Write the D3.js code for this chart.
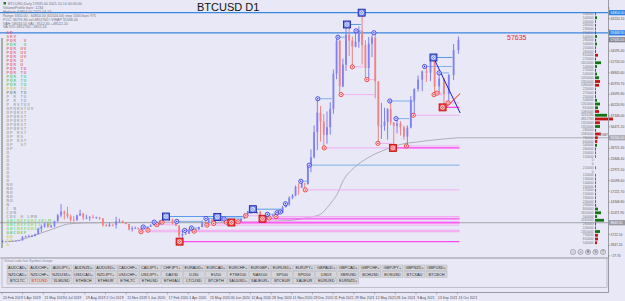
<!DOCTYPE html>
<html>
<head>
<meta charset="utf-8">
<script src="https://cdn.jsdelivr.net/npm/d3@7"></script>
<style>
html, body { margin: 0; padding: 0; background: #e8e8f6; overflow: hidden; }
svg { display: block; font-family: "Liberation Sans", Arial, sans-serif; }
</style>
</head>
<body>
<svg id="chart" width="625" height="301"></svg>
<script>
// time axis labels, as printed under the chart
const tickLabels = ["20 Feb 2019","5 Apr 2019","21 May 2019","4 Jul 2019","19 Aug 2019","2 Oct 2019","15 Nov 2019","1 Jan 2020","17 Feb 2020","1 Apr 2020","15 May 2020","30 Jun 2020","12 Aug 2020","28 Sep 2020","11 Nov 2020","28 Dec 2020","11 Feb 2021","29 Mar 2021","12 May 2021","28 Jun 2021","9 Aug 2021","13 Sep 2021","13 Oct 2021"];
const tickDates = ["2019-02-20","2019-04-05","2019-05-21","2019-07-04","2019-08-19","2019-10-02","2019-11-15","2020-01-01","2020-02-17","2020-04-01","2020-05-15","2020-06-30","2020-08-12","2020-09-28","2020-11-11","2020-12-28","2021-02-11","2021-03-29","2021-05-12","2021-06-28","2021-08-09","2021-09-13","2021-10-13"];

// price axis labels
const priceTicks = [-27.70,2847.20,5722.10,8597.00,11471.90,14346.80,17221.70,20096.60,22971.50,25846.40,28721.30,31596.20,34471.10,37346.00,40220.90,43095.80,45970.70,48845.60,51720.50,54595.40,57470.30,60345.20,63220.10,66095.00];

// weekly candles (weeks starting on monday)
const firstWeek = "2019-02-18";
const wkOpen = [3650,3850,3860,3950,4000,4020,4150,5050,5150,5300,
  5300,5800,7250,7800,8700,7700,8000,9300,10800,11800,
  11300,10600,9600,9500,10800,11300,10200,10200,10400,10300,
  10300,10000,8200,7900,8300,8250,9200,9200,8800,8500,
  7050,7400,7500,7100,7300,7400,7750,8200,8650,8400,
  9300,9900,9900,9700,8600,8000,5400,5850,5900,6800,
  6900,7100,7700,8900,8750,9700,8900,9450,9700,9350,
  9300,9000,9250,9250,9200,9950,11050,11900,11900,11700,
  11700,10300,10600,10700,10750,11050,11400,11500,13000,13750,
  15500,16050,18400,18200,19300,19150,23800,26300,33000,38200,
  35800,32300,34300,39200,48600,57400,45200,51000,59000,57400,
  55800,57100,60000,56200,50100,56600,58200,46500,34700,34700,
  35800,39100,35600,34700,35300,34300,31800,34200,41500,44500,
  47000,49200,48800,51800,45200,47300,43200,48200,54900];
const wkHigh = [4200,3950,3980,4050,4100,4150,5300,5450,5650,5650,
  5900,7450,8350,8700,9100,8300,9400,11200,13800,12100,
  13100,11000,10600,11000,12300,11450,10950,10600,10950,10450,
  10350,10000,8500,8800,8400,10400,9900,9500,8900,8500,
  7900,7800,7500,7500,7700,7500,8450,9000,8700,9600,
  9950,10500,10250,9950,9200,8200,6900,6900,7200,7450,
  7300,7800,9450,10000,9900,9850,9600,10400,9950,9850,
  9800,9300,9450,9300,10000,11400,12000,12100,12450,11800,
  12000,10700,11100,10800,10950,11500,11700,13350,14000,15900,
  16500,18800,19400,19900,19400,24200,28400,34800,41900,40000,
  37800,38500,41000,49700,58300,57500,52600,61700,60900,58500,
  60000,61200,64854,57500,58400,58900,59500,46600,40800,39500,
  39400,41300,35700,36600,35900,34700,34800,42600,44700,48100,
  49400,50500,52000,52900,48800,47300,48500,56500,58500];
const wkLow = [3640,3700,3700,3850,3950,3950,4100,4900,5050,5000,
  5200,5700,6400,7500,7500,7450,7600,9000,10300,9700,
  10000,9100,9200,9400,10600,9500,9800,9350,10000,9900,
  9600,7800,7900,7800,7900,7300,9000,8700,8400,6800,
  6500,7200,7000,6450,7100,6850,7700,8100,8300,8300,
  9100,9750,9300,8400,8000,3800,4500,5700,5900,6700,
  6600,6850,7650,8700,8200,8800,8650,9300,9100,9200,
  8850,8900,9100,9050,9100,9900,10700,11200,11500,11150,
  9900,9900,10200,10100,10400,10500,11200,11400,12900,13300,
  15100,15900,16300,18100,17600,19000,22300,26000,28200,30500,
  28800,29900,32300,37900,47100,43000,45000,49300,53300,50400,
  55600,55500,51000,47000,47100,53000,42000,30000,31200,33400,
  31000,34900,28800,32700,32100,31000,29300,34000,37500,43800,
  43900,46400,46600,43000,43400,39600,40800,46900,53900];
const wkClose = [3850,3860,3950,4000,4020,4150,5050,5150,5300,5300,
  5800,7250,7800,8700,7700,8000,9300,10800,11800,11300,
  10600,9600,9500,10800,11300,10200,10200,10400,10300,10300,
  10000,8200,7900,8300,8250,9200,9200,8800,8500,7050,
  7400,7500,7100,7300,7400,7750,8200,8650,8400,9300,
  9900,9900,9700,8600,8000,5400,5850,5900,6800,6900,
  7100,7700,8900,8750,9700,8900,9450,9700,9350,9300,
  9000,9250,9250,9200,9950,11050,11900,11900,11700,11700,
  10300,10600,10700,10750,11050,11400,11500,13000,13750,15500,
  16050,18400,18200,19300,19150,23800,26300,33000,38200,35800,
  32300,34300,39200,48600,57400,45200,51000,59000,57400,55800,
  57100,60000,56200,50100,56600,58200,46500,34700,34700,35800,
  39100,35600,34700,35300,34300,31800,34200,41500,44500,47000,
  49200,48800,51800,45200,47300,43200,48200,54900,57635];
const lastPrice = 57635;
const lastDate = "2021-10-16";

// long average (grey curve)
const maDates = ["2019-03-08","2019-04-02","2019-05-03","2019-06-04","2019-06-26","2019-07-12","2019-08-20","2019-11-01","2020-02-01","2020-06-01","2020-09-01","2020-11-01","2020-11-25","2020-12-20","2021-01-13","2021-02-04","2021-02-20","2021-03-05","2021-03-31","2021-04-27","2021-06-09","2021-07-05","2021-08-12","2021-10-14"];
const maValues = [3800,4300,5600,6900,7900,8500,8800,8900,8950,8950,9150,9400,9700,10300,11000,13800,16500,20000,23700,26100,28500,29600,30400,31500];

// swing highs (blue) and lows (red), with the day their line stops (null = still open)
const hiDates = ["2019-12-23","2020-01-17","2020-02-13","2020-03-07","2020-03-24","2020-04-07","2020-05-08","2020-06-02","2020-06-17","2020-08-17","2020-09-19","2020-10-10","2020-10-17","2020-10-28","2020-12-01","2020-12-20","2021-01-08","2021-02-21","2021-03-13","2021-04-02","2021-04-14","2021-05-10","2021-06-15","2021-06-29","2021-08-23","2021-09-07","2021-09-16"];
const hiPrices = [7700,9000,10500,9200,6800,7450,10000,10400,9850,12450,11100,11500,11700,13900,19900,24200,41900,58300,61700,60000,64854,59500,41300,36600,50500,52900,48800];
const hiBox = [0,0,1,0,0,0,0,1,0,1,0,0,0,0,0,0,0,0,1,0,1,0,0,0,0,1,0];
const hiEnds = ["2020-01-06","2020-01-29","2020-07-27","2020-04-30","2020-04-06","2020-04-23","2020-06-01","2020-07-27","2020-07-22","2020-10-21","2020-10-10","2020-10-20","2020-10-21","2020-11-04","2020-12-16",null,"2021-02-08","2021-03-13","2021-04-13","2021-04-13","2021-04-14","2021-05-10","2021-08-06","2021-07-26","2021-10-05","2021-10-06","2021-10-01"];

const loDates = ["2019-12-18","2020-01-03","2020-01-23","2020-02-04","2020-03-13","2020-04-13","2020-05-10","2020-05-25","2020-06-22","2020-07-03","2020-07-17","2020-08-02","2020-09-08","2020-09-23","2020-10-08","2020-12-11","2021-01-22","2021-02-28","2021-03-25","2021-04-25","2021-05-19","2021-06-22","2021-07-20","2021-08-03","2021-09-08","2021-09-13","2021-09-21","2021-09-29"];
const loPrices = [6450,6850,8300,9000,3800,6600,8200,8650,9000,8900,9100,10700,9900,10100,10500,17600,28800,43000,50400,47000,30000,28800,29300,37500,43000,43400,39600,40800];
const loBox = [0,0,0,0,1,0,0,0,0,1,0,0,1,0,0,0,0,0,0,0,0,1,0,0,0,0,1,0];
const loEnds = [null,null,"2020-03-09","2020-03-08",null,null,null,null,"2020-06-27",null,null,"2020-09-05",null,null,null,null,null,"2021-05-12","2021-04-18","2021-05-12","2021-06-22",null,null,null,"2021-09-21","2021-09-20",null,null];

// horizontal levels across the whole chart
const blueLevels = [64854.00, 59468.90];
const greyLevels = [8843.50];

// trend lines at the right end
const trendFromDate = ["2021-09-07","2021-09-22"];
const trendFromPrice = [52900, 38900];
const trendToDate = ["2021-10-17","2021-10-17"];
const trendToPrice = [38100, 43300];

// volume profile by 1000$ bins
const vpPrices = [3500,4500,5500,6500,7500,8500,9500,10500,11500,12500,13500,14500,15500,16500,17500,18500,19500,20500,21500,22500,23500,24500,25500,26500,27500,28500,29500,30500,31500,32500,33500,34500,35500,36500,37500,38500,39500,40500,41500,42500,43500,44500,45500,46500,47500,48500,49500,50500,51500,52500,53500,54500,55500,56500,57500,58500,59500,60500,61500,62500,63500,64500];
const vpVolumes = [540000,810000,790000,1350000,240000,260000,2430000,560000,1620000,800000,290000,230000,180000,150000,170000,160000,140000,130000,120000,0,210000,0,0,150000,200000,260000,540000,600000,760000,1580000,280000,1350000,1320000,4852760,3230180,1080000,810000,1350000,540000,250000,270000,220000,1080000,1350000,1090000,540000,270000,540000,1620000,270000,810000,260000,250000,540000,280000,540000,250000,230000,260000,200000,540000,180000];
const vpUp = [0,0,0,1,1,0,1,1,1,1,1,1,0,1,0,1,1,0,1,1,1,1,1,0,1,1,1,0,0,0,1,1,0,0,1,0,1,1,1,0,0,1,0,0,1,1,1,1,1,0,0,1,0,1,1,1,0,1,0,1,1,0];

// letter table on the left (blank = letter missing in that row)
const rowTexts = ["SR","SRV","PQR  V","PQR  V","PQR UV","PQR UV","PQR UV","PQR U","PQR U","PQR TU","PQR TU","PQR TU","PQR TU","PQR TU","PQR TU","PQR TU","P R TU","P R TU","P RSTUV","OPQRSTUV","OPQRST","OPQRST","OPQRST","OPQRST","OPQRST","OP RST","OP RS","OP RST","OP  ST","OP","O","O","O","O","O","O","O","O","NO","NO","NO","NO","NO","N","C N","CDN","CDE H LMN","ABCDEFGHIJKLM","ABCDEFGHIJ  M","ABCDEFGHIJ","ABCDEF","AB","AB","A"];
const rowKinds = ["r","r","r","g","r","r","r","r","r","r","r","g","g","g","y","d","s","s","s","s","s","s","s","s","s","s","s","s","s","s","s","s","s","s","s","s","s","s","s","s","s","s","s","s","s","s","s","l","l","l","g","y","y","y"];

const headerLines = ["BTCUSD,Daily  57635.00  2021.10.14 00:00:00","VolumeProfile  bars: 1234","Highest: 64854.00  2021.04.14","Range 3350.00 - 64854.00  (61504.00)  step 1000  bars 975","POC: 36791.80  vol 4852760  /  VWAP 31568.40","VAH: 58034.50  VAL: 9512.30  +48522.20","VA  70%  4852760 / 4852.24"];

const btnRow1 = ["AUDCAD+","AUDCHF+","AUDJPY+","AUDNZD+","AUDUSD+","CADCHF+","CADJPY+","CHFJPY+","EURAUD+","EURCAD+","EURCHF+","EURGBP+","EURUSD+","EURJPY+","GBPAUD+","GBPCAD+","GBPCHF+","GBPJPY+","GBPNZD+","GBPUSD+"];
const btnRow2 = ["NZDCAD+","NZDCHF+","NZDUSD+","USDCAD+","NZDJPY+","USDCHF+","USDJPY+","DAX30","DJ30","EU50","FTSE100","NAS100","SP500","SPI200","USDX","XBRUSD","BCHUSD","EOSUSD","BTCXAU","BTCBCH"];
const btnRow3 = ["BTCLTC","BTCUSD","XLMUSD","ETHBCH","ETHEUR","ETHLTC","ETHUSD","ETHXAU","LTCUSD","BTCETH","XAUUSD+","XAUEUR+","BTCEUR","XAUEUR","EURUSD","EURNZD+"];
const activeSymbol = "BTCUSD";

// ---------------------------------------------------------------
const W = 625, H = 301;
const plotRight = 608, plotBottom = 292;
const parse = d3.utcParse("%Y-%m-%d");
const svg = d3.select("#chart");

svg.append("rect").attr("width", W).attr("height", H).attr("fill", "#e8e8f6");

// bar-indexed time axis: labels sit at equal spacing
const tickStep = 20.7;
const x = d3.scaleUtc()
    .domain(tickDates.map(parse))
    .range(tickDates.map((d, i) => 2 + i * tickStep));

const y = d3.scaleLinear()
    .domain([priceTicks[0], priceTicks[priceTicks.length - 1]])
    .range([256, 8]);

svg.append("clipPath").attr("id", "plot")
    .append("rect").attr("width", plotRight).attr("height", plotBottom);

const plot = svg.append("g").attr("clip-path", "url(#plot)");

// header text lines (top left)
const header = svg.append("g").attr("font-size", 3.6).attr("fill", "#74747c");
headerLines.forEach((t, i) => {
    header.append("text")
        .attr("x", i == 0 ? 8 : 3)
        .attr("y", i < 3 ? 4.5 + i * 4 : 17 + (i - 3) * 3.8)
        .text(t);
});
svg.append("rect").attr("x", 3.5).attr("y", 2).attr("width", 2.5).attr("height", 2.5).attr("fill", "#208020");

// grey levels and long average
greyLevels.forEach(p => {
    plot.append("line")
        .attr("x1", 0).attr("x2", plotRight)
        .attr("y1", y(p)).attr("y2", y(p))
        .attr("stroke", "#a4a4ac").attr("stroke-width", 1);
});

const maLine = d3.line()
    .x((d, i) => x(parse(maDates[i])))
    .y(d => y(d))
    .curve(d3.curveMonotoneX);

plot.append("path")
    .datum(maValues)
    .attr("fill", "none")
    .attr("stroke", "#a8a8b0")
    .attr("stroke-width", 0.9)
    .attr("d", maLine);

const maLast = maValues[maValues.length - 1];
plot.append("line")
    .attr("x1", x(parse(maDates[maDates.length - 1]))).attr("x2", plotRight)
    .attr("y1", y(maLast)).attr("y2", y(maLast))
    .attr("stroke", "#a8a8b0").attr("stroke-width", 0.9);

// full width blue levels
blueLevels.forEach(p => {
    plot.append("line")
        .attr("x1", 0).attr("x2", plotRight)
        .attr("y1", y(p)).attr("y2", y(p))
        .attr("stroke", "#3a86e0").attr("stroke-width", 1.4);
});

// swing lines
const endX = d => x(parse(d == null ? lastDate : d));
const dayX = d => x(d3.utcHour.offset(parse(d), 12));

loDates.forEach((d, i) => {
    plot.append("line")
        .attr("x1", dayX(d)).attr("x2", endX(loEnds[i]))
        .attr("y1", y(loPrices[i])).attr("y2", y(loPrices[i]))
        .attr("stroke", loBox[i] ? "#ff4af2" : "#f4a6f2")
        .attr("stroke-width", loBox[i] ? 1.3 : 0.9);
});
hiDates.forEach((d, i) => {
    plot.append("line")
        .attr("x1", dayX(d)).attr("x2", endX(hiEnds[i]))
        .attr("y1", y(hiPrices[i])).attr("y2", y(hiPrices[i]))
        .attr("stroke", hiBox[i] ? "#5a9ae8" : "#7eb2ee")
        .attr("stroke-width", 1);
});

// candles
const candles = plot.append("g");
wkClose.forEach((c, i) => {
    const wk = d3.utcDay.offset(parse(firstWeek), 7 * i);
    const cx = x(d3.utcHour.offset(wk, 84));
    const o = wkOpen[i];
    const col = c >= o ? "#8080f4" : "#f08282";
    candles.append("line")
        .attr("x1", cx).attr("x2", cx)
        .attr("y1", y(wkHigh[i])).attr("y2", y(wkLow[i]))
        .attr("stroke", col).attr("stroke-width", 1);
    const top = Math.min(y(o), y(c));
    candles.append("rect")
        .attr("x", cx - 0.9).attr("width", 1.8)
        .attr("y", top).attr("height", Math.max(0.8, Math.abs(y(o) - y(c))))
        .attr("fill", col);
});

// trend lines
const trendCols = ["#1c1cd0", "#ee2020"];
trendFromDate.forEach((d, i) => {
    plot.append("line")
        .attr("x1", dayX(d)).attr("y1", y(trendFromPrice[i]))
        .attr("x2", x(parse(trendToDate[i]))).attr("y2", y(trendToPrice[i]))
        .attr("stroke", trendCols[i]).attr("stroke-width", 1);
});

// markers
function marker(cx, cy, box, blue) {
    const g = plot.append("g").attr("transform", "translate(" + cx + "," + cy + ")");
    if (box) {
        g.append("rect").attr("x", -3.5).attr("y", -3.5).attr("width", 7).attr("height", 7)
            .attr("fill", blue ? "#6c86f0" : "#f04a4a")
            .attr("stroke", blue ? "#1414a0" : "#c80000").attr("stroke-width", 0.8);
        g.append("circle").attr("r", 1.9).attr("fill", "none").attr("stroke", "#ffffff").attr("stroke-width", 0.7);
        g.append("path").attr("d", "M-1.2,-1.2L1.2,1.2M1.2,-1.2L-1.2,1.2")
            .attr("stroke", "#ffffff").attr("stroke-width", 0.5);
    } else {
        g.append("circle").attr("r", 2.1)
            .attr("fill", blue ? "#dfe2ff" : "#ffe0e0")
            .attr("stroke", blue ? "#2424e0" : "#ee2020").attr("stroke-width", 0.75);
        g.append("circle").attr("r", 0.65).attr("fill", blue ? "#2424e0" : "#ee2020");
    }
}
loDates.forEach((d, i) => marker(dayX(d), y(loPrices[i]), loBox[i], false));
hiDates.forEach((d, i) => marker(dayX(d), y(hiPrices[i]), hiBox[i], true));

// letter table
const rowCols = { r: "#e03a3a", g: "#2ec02e", y: "#c8c810", d: "#5a6a5a", s: "#8c948c", l: "#44e044" };
svg.append("line").attr("x1", 2).attr("x2", 2).attr("y1", 38).attr("y2", 248)
    .attr("stroke", "#3a5a3a").attr("stroke-width", 0.8);
const letters = svg.append("g")
    .attr("font-family", "'DejaVu Sans Mono', monospace")
    .attr("font-size", 4.2).attr("letter-spacing", 0.95);
rowTexts.forEach((t, i) => {
    letters.append("text")
        .attr("x", 6.5).attr("y", 33.5 + i * 4.0)
        .attr("fill", rowCols[rowKinds[i]])
        .style("white-space", "pre")
        .text(t);
});

// title and last price note
svg.append("text").attr("x", 197).attr("y", 11).attr("font-size", 11).attr("fill", "#111")
    .text("BTCUSD D1");
svg.append("text").attr("x", 507).attr("y", 40).attr("font-size", 7).attr("fill", "#e02828")
    .text(d3.format("d")(lastPrice));

// volume profile
const vpX = 595;
const vpScale = d3.scaleLinear().domain([0, d3.max(vpVolumes)]).range([0, 18]);
const vp = svg.append("g");
vpPrices.forEach((p, i) => {
    const yy = y(p);
    vp.append("text").attr("x", vpX - 1.5).attr("y", yy + 1.1)
        .attr("text-anchor", "end").attr("font-size", 3.2).attr("fill", "#7a7a82")
        .text(vpVolumes[i]);
    if (vpVolumes[i] > 0) {
        vp.append("rect").attr("x", vpX).attr("y", yy - 1.4)
            .attr("width", Math.max(0.8, vpScale(vpVolumes[i]))).attr("height", 2.8)
            .attr("fill", vpUp[i] ? "#137413" : "#c41414");
    }
});
svg.append("text").attr("x", 599).attr("y", y(maLast) - 1.8).attr("font-size", 3.2).attr("fill", "#7a7a82").text("VWAP");

// little round buttons
["-", "+", "B", "S", "T"].forEach((t, i) => {
    const bx = 573 + i * 7.5;
    svg.append("circle").attr("cx", bx).attr("cy", 252).attr("r", 2.6)
        .attr("fill", "#dcdce8").attr("stroke", "#8a8a96").attr("stroke-width", 0.6);
    svg.append("text").attr("x", bx).attr("y", 253.2).attr("text-anchor", "middle")
        .attr("font-size", 3.3).attr("fill", "#444").text(t);
});

// right price axis
svg.append("line").attr("x1", plotRight + 0.5).attr("x2", plotRight + 0.5).attr("y1", 0).attr("y2", plotBottom)
    .attr("stroke", "#9a9aa4").attr("stroke-width", 1);
const boxed = blueLevels.concat(greyLevels, [maLast, lastPrice]);
const yAxis = svg.append("g");
priceTicks.forEach(p => {
    yAxis.append("line").attr("x1", plotRight).attr("x2", plotRight + 2)
        .attr("y1", y(p)).attr("y2", y(p)).attr("stroke", "#8a8a94").attr("stroke-width", 0.6);
    // a label under a price box is hidden by it
    if (boxed.some(b => Math.abs(y(b) - y(p)) < 5)) return;
    yAxis.append("text").attr("x", plotRight + 2.5).attr("y", y(p) + 1.2)
        .attr("font-size", 3.3).attr("fill", "#50505a").text(d3.format(".2f")(p));
});
function axisBox(p, fill) {
    svg.append("rect").attr("x", plotRight + 1).attr("y", y(p) - 2.6).attr("width", 16).attr("height", 5.2).attr("fill", fill);
    svg.append("text").attr("x", plotRight + 2.5).attr("y", y(p) + 1.2)
        .attr("font-size", 3.3).attr("fill", "#ffffff").text(d3.format(".2f")(p));
}
blueLevels.forEach(p => axisBox(p, "#2f80e4"));
greyLevels.forEach(p => axisBox(p, "#9a9aa2"));
axisBox(maLast, "#a8a8b0");
axisBox(lastPrice, "#8a8a92");

// symbol change panel
svg.append("line").attr("x1", 0).attr("x2", plotRight).attr("y1", 258).attr("y2", 258)
    .attr("stroke", "#a2a2aa").attr("stroke-width", 0.8);
svg.append("rect").attr("x", 2).attr("y", 258).attr("width", plotRight - 3).attr("height", 29.5)
    .attr("fill", "none").attr("stroke", "#a2a2aa").attr("stroke-width", 0.6);
svg.append("text").attr("x", 4).attr("y", 262.3).attr("font-size", 3.4).attr("fill", "#8a8a94")
    .text("Virtual code fast Symbol change");

const band = d3.scaleBand().domain(d3.range(20)).range([7, 447]).paddingInner(0.05);
[btnRow1, btnRow2, btnRow3].forEach((row, r) => {
    row.forEach((t, i) => {
        const by = 265 + r * 6.6;
        svg.append("rect").attr("x", band(i)).attr("y", by).attr("width", band.bandwidth()).attr("height", 5.8)
            .attr("fill", "#d6d6da").attr("stroke", "#a6a6ae").attr("stroke-width", 0.4);
        svg.append("text").attr("x", band(i) + band.bandwidth() / 2).attr("y", by + 4.1)
            .attr("text-anchor", "middle").attr("font-size", 3.9)
            .attr("fill", t == activeSymbol ? "#e02424" : "#26262e").text(t);
    });
});

// bottom time axis
svg.append("line").attr("x1", 0).attr("x2", plotRight + 1).attr("y1", plotBottom + 0.5).attr("y2", plotBottom + 0.5)
    .attr("stroke", "#9a9aa4").attr("stroke-width", 1);
tickDates.forEach((d, i) => {
    const tx = x(parse(d));
    svg.append("line").attr("x1", tx).attr("x2", tx).attr("y1", plotBottom).attr("y2", plotBottom + 2.5)
        .attr("stroke", "#8a8a94").attr("stroke-width", 0.6);
    svg.append("text").attr("x", tx + 1).attr("y", 298.5).attr("font-size", 3.5).attr("fill", "#50505a")
        .text(tickLabels[i]);
});
</script>
</body>
</html>
